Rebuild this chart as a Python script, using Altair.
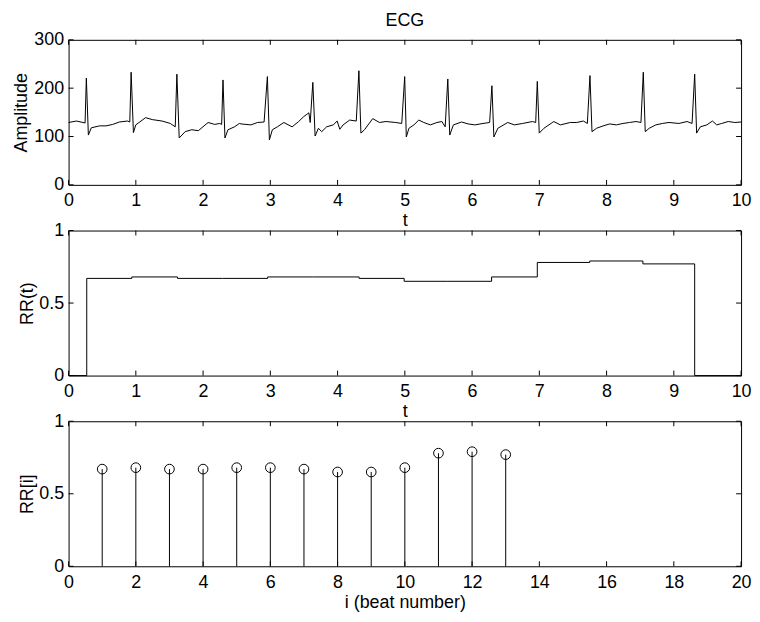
import altair as alt
import pandas as pd

# ---------------- data ----------------
ecg_t = [0.0, 0.117, 0.215, 0.245, 0.264, 0.294, 0.338, 0.46, 0.558, 0.656, 0.754, 0.876, 0.91,
         0.93, 0.964, 0.999, 1.145, 1.243, 1.39, 1.513, 1.586, 1.61, 1.645, 1.733, 1.831, 1.929,
         2.075, 2.173, 2.247, 2.276, 2.296, 2.325, 2.37, 2.467, 2.54, 2.565, 2.711, 2.81, 2.907,
         2.956, 2.986, 3.03, 3.104, 3.201, 3.324, 3.421, 3.495, 3.544, 3.573, 3.593, 3.632, 3.666,
         3.715, 3.764, 3.837, 3.935, 3.994, 4.033, 4.082, 4.18, 4.278, 4.317, 4.347, 4.4, 4.523,
         4.621, 4.719, 4.866, 4.954, 4.998, 5.022, 5.061, 5.135, 5.208, 5.282, 5.38, 5.477, 5.551,
         5.6, 5.639, 5.668, 5.722, 5.844, 5.942, 6.04, 6.163, 6.261, 6.295, 6.324, 6.383, 6.53,
         6.628, 6.751, 6.897, 6.946, 6.97, 6.999, 7.068, 7.215, 7.313, 7.46, 7.557, 7.655, 7.714,
         7.753, 7.783, 7.851, 7.949, 8.047, 8.145, 8.243, 8.341, 8.439, 8.511, 8.546, 8.575, 8.634,
         8.732, 8.83, 8.928, 9.075, 9.197, 9.271, 9.31, 9.339, 9.393, 9.491, 9.574, 9.638, 9.711,
         9.809, 9.907, 10.0]
ecg_a = [129, 132, 129, 128, 221, 103, 118, 122, 122, 125, 130, 132, 130,
         233, 108, 124, 139, 135, 132, 127, 120, 229, 97, 110, 114, 112,
         129, 125, 127, 125, 217, 97, 114, 120, 127, 126, 124, 129, 130,
         224, 93, 114, 120, 129, 120, 131, 141, 146, 149, 129, 212, 101,
         117, 110, 120, 124, 132, 115, 124, 134, 132, 236, 107, 114, 137,
         129, 131, 129, 127, 224, 99, 117, 124, 134, 129, 124, 129, 131,
         120, 219, 103, 124, 130, 126, 124, 127, 129, 205, 99, 117, 129,
         124, 127, 131, 129, 214, 107, 117, 131, 124, 129, 129, 132, 127,
         226, 110, 117, 122, 126, 124, 127, 129, 131, 129, 233, 110, 117,
         124, 127, 129, 127, 131, 127, 229, 107, 120, 124, 132, 124, 127,
         131, 129, 130]

beat_times = [0.27, 0.94, 1.62, 2.29, 2.96, 3.64, 4.32, 4.99, 5.64, 6.29, 6.97, 7.75, 8.54, 9.31]
rr_values = [0.67, 0.68, 0.67, 0.67, 0.68, 0.68, 0.67, 0.65, 0.65, 0.68, 0.78, 0.79, 0.77]
beat_index = list(range(1, len(rr_values) + 1))

ecg_xticks = list(range(0, 11))
ecg_yticks = [0, 100, 200, 300]
rr_yticks = [0, 0.5, 1]
beat_xticks = list(range(0, 21, 2))

# ---------------- tables ----------------
ecg_df = pd.DataFrame({"t": ecg_t, "a": ecg_a})
step_t = [0.0] + beat_times + [10.0]
step_v = [0.0] + rr_values + [0.0, 0.0]
rrt_df = pd.DataFrame({"t": step_t, "v": step_v})
rri_df = pd.DataFrame({"i": beat_index, "rr": rr_values})

W, H = 677, 146
FONT = "Liberation Sans"
FS = 18
TICK = 5


def axis_x(values, title, title_y=27.2):
    return alt.Axis(values=values, ticks=False, tickSize=0, domain=False, grid=False,
                    labelFlush=False, labelOverlap=False, labelPadding=7, format="~f",
                    title=title, titleY=title_y, titleX=W / 2, titleAlign="center")


def axis_y(values, title, title_x):
    return alt.Axis(values=values, ticks=False, tickSize=0, domain=False, grid=False,
                    labelOverlap=False, labelPadding=5, format="~f",
                    title=title, titleX=title_x, titleY=H / 2, titleAngle=270)


def inward_ticks(xvals, yvals, xsc, ysc, xax, yax):
    xs = pd.DataFrame({"v": xvals})
    ys = pd.DataFrame({"v": yvals})
    bx = alt.Chart(xs).mark_rule(color="black", strokeWidth=1)
    by = alt.Chart(ys).mark_rule(color="black", strokeWidth=1)
    xe = alt.X("v:Q", scale=xsc, axis=xax)
    ye = alt.Y("v:Q", scale=ysc, axis=yax)
    return [
        bx.encode(x=xe, y=alt.value(H), y2=alt.value(H - TICK)),
        bx.encode(x=xe, y=alt.value(0), y2=alt.value(TICK)),
        by.encode(y=ye, x=alt.value(0), x2=alt.value(TICK)),
        by.encode(y=ye, x=alt.value(W), x2=alt.value(W - TICK)),
    ]


# ---------------- panel 1: ECG ----------------
x1 = alt.Scale(domain=[0, 10], nice=False, zero=False)
y1 = alt.Scale(domain=[0, 300], nice=False, zero=False)
ax1 = axis_x(ecg_xticks, "t")
ay1 = axis_y(ecg_yticks, "Amplitude", -38)
ecg_line = alt.Chart(ecg_df).mark_line(color="black", strokeWidth=1).encode(
    x=alt.X("t:Q", scale=x1, axis=ax1),
    y=alt.Y("a:Q", scale=y1, axis=ay1),
)
p1 = alt.layer(ecg_line, *inward_ticks(ecg_xticks, ecg_yticks, x1, y1, ax1, ay1)).properties(
    width=W, height=H,
    title=alt.TitleParams("ECG", font=FONT, fontSize=FS, fontWeight="normal",
                          anchor="middle", frame="group", offset=1, color="black"),
)

# ---------------- panel 2: RR(t) ----------------
x2 = alt.Scale(domain=[0, 10], nice=False, zero=False)
y2 = alt.Scale(domain=[0, 1], nice=False, zero=False)
ax2 = axis_x(ecg_xticks, "t")
ay2 = axis_y(rr_yticks, "RR(t)", -32)
rr_line = alt.Chart(rrt_df).mark_line(color="black", strokeWidth=1, interpolate="step-after").encode(
    x=alt.X("t:Q", scale=x2, axis=ax2),
    y=alt.Y("v:Q", scale=y2, axis=ay2),
)
p2 = alt.layer(rr_line, *inward_ticks(ecg_xticks, rr_yticks, x2, y2, ax2, ay2)).properties(width=W, height=H)

# ---------------- panel 3: RR[i] stem ----------------
x3 = alt.Scale(domain=[0, 20], nice=False, zero=False)
y3 = alt.Scale(domain=[0, 1], nice=False, zero=False)
ax3 = axis_x(beat_xticks, "i (beat number)")
ay3 = axis_y(rr_yticks, "RR[i]", -32)
stems = alt.Chart(rri_df).mark_rule(color="black", strokeWidth=1).encode(
    x=alt.X("i:Q", scale=x3, axis=ax3),
    y=alt.Y("rr:Q", scale=y3, axis=ay3),
    y2=alt.datum(0),
)
heads = alt.Chart(rri_df).mark_point(shape="circle", filled=False, size=95, color="black",
                                     strokeWidth=1, opacity=1).encode(
    x=alt.X("i:Q", scale=x3, axis=ax3),
    y=alt.Y("rr:Q", scale=y3, axis=ay3),
)
p3 = alt.layer(stems, heads, *inward_ticks(beat_xticks, rr_yticks, x3, y3, ax3, ay3)).properties(width=W, height=H)

chart = alt.vconcat(p1, p2, p3, spacing=46, bounds="flush").properties(
    padding={"left": 4, "top": 1, "right": 0, "bottom": 0},
    background="white",
).configure_view(
    stroke="black", strokeWidth=1
).configure_axis(
    labelFont=FONT, labelFontSize=FS, labelColor="black",
    titleFont=FONT, titleFontSize=FS, titleFontWeight="normal", titleColor="black",
)

chart.save("out.html", embed_options={"renderer": "svg", "actions": False})
